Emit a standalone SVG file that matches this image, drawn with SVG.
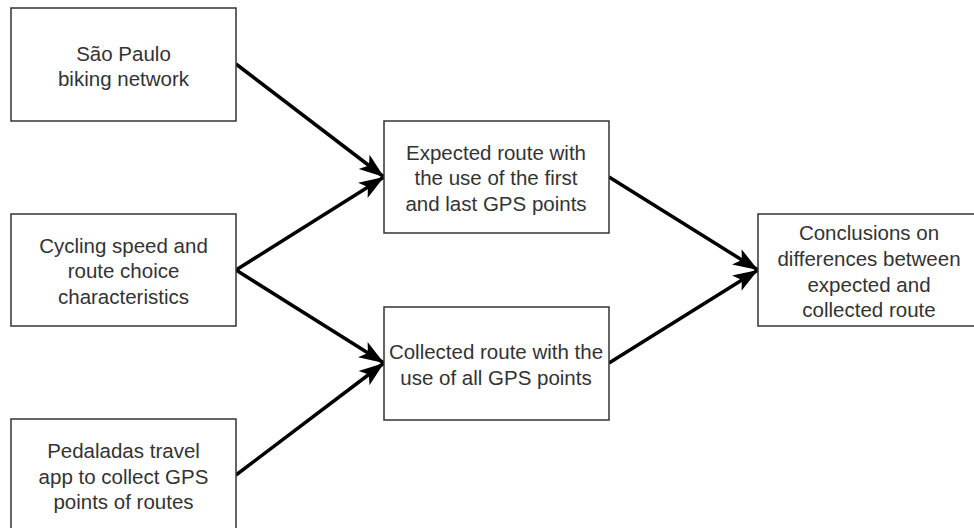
<svg xmlns="http://www.w3.org/2000/svg" width="974" height="528" viewBox="0 0 974 528">
<defs>
<style>
.box{fill:#fff;stroke:#333;stroke-width:1.5}
.t{font-family:"Liberation Sans",Arial,sans-serif;font-size:20.5px;fill:#333;text-anchor:middle}
.e{fill:none;stroke:#000;stroke-width:3.5}
</style>
<marker id="ah" markerUnits="userSpaceOnUse" markerWidth="26" markerHeight="20" viewBox="0 0 26 20" refX="25" refY="10" orient="auto">
<path d="M0,1 L25,10 L0,19 L6,10 Z" fill="#000"/>
</marker>
</defs>
<rect width="974" height="528" fill="#fff"/>
<g id="connectors">
<line class="e" x1="236" y1="64" x2="384" y2="177" marker-end="url(#ah)"/>
<line class="e" x1="236" y1="270" x2="384" y2="177" marker-end="url(#ah)"/>
<line class="e" x1="236" y1="270" x2="384" y2="363" marker-end="url(#ah)"/>
<line class="e" x1="236" y1="475" x2="384" y2="363" marker-end="url(#ah)"/>
<line class="e" x1="609" y1="177" x2="758" y2="270" marker-end="url(#ah)"/>
<line class="e" x1="609" y1="363" x2="758" y2="270" marker-end="url(#ah)"/>
</g>
<g id="n1">
<rect class="box" x="11" y="8" width="225" height="113"/>
<text class="t" x="123.5" y="61">São Paulo</text>
<text class="t" x="123.5" y="86">biking network</text>
</g>
<g id="n2">
<rect class="box" x="11" y="214" width="225" height="112"/>
<text class="t" x="123.5" y="253">Cycling speed and</text>
<text class="t" x="123.5" y="278">route choice</text>
<text class="t" x="123.5" y="304">characteristics</text>
</g>
<g id="n3">
<rect class="box" x="11" y="419" width="225" height="112"/>
<text class="t" x="123.5" y="458">Pedaladas travel</text>
<text class="t" x="123.5" y="484">app to collect GPS</text>
<text class="t" x="123.5" y="509">points of routes</text>
</g>
<g id="n4">
<rect class="box" x="384" y="121" width="225" height="112"/>
<text class="t" x="496" y="160">Expected route with</text>
<text class="t" x="496" y="185">the use of the first</text>
<text class="t" x="496" y="211">and last GPS points</text>
</g>
<g id="n5">
<rect class="box" x="384" y="307" width="225" height="113"/>
<text class="t" x="496" y="359">Collected route with the</text>
<text class="t" x="496" y="385">use of all GPS points</text>
</g>
<g id="n6">
<rect class="box" x="758" y="214" width="225" height="112"/>
<text class="t" x="869" y="240">Conclusions on</text>
<text class="t" x="869" y="266">differences between</text>
<text class="t" x="869" y="292">expected and</text>
<text class="t" x="869" y="317">collected route</text>
</g>
</svg>
